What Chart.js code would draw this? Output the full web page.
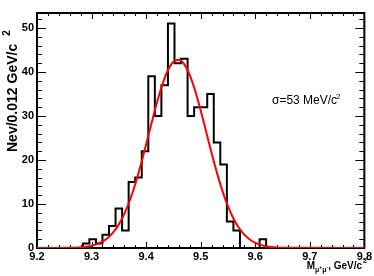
<!DOCTYPE html>
<html>
<head>
<meta charset="utf-8">
<script src="https://cdn.jsdelivr.net/npm/chart.js@4.4.1/dist/chart.umd.min.js"></script>
<style>
  html, body { margin: 0; padding: 0; background: #fff; }
  canvas { display: block; }
</style>
</head>
<body>
<canvas id="chart" width="374" height="276"></canvas>
<script>
// histogram: 50 bins of 0.012 GeV from 9.2 to 9.8
const massMin = 9.2;
const massMax = 9.8;
const binWidth = 0.012;
const counts = [
  0, 0, 0, 0, 0, 0, 0, 1, 2, 1,
  3, 5, 9, 4, 15, 16, 22, 39, 30, 37,
  51, 42, 43, 30, 32, 32, 35, 24, 19, 6,
  4, 0, 0, 0, 2, 0, 0, 0, 0, 0,
  0, 0, 0, 0, 0, 0, 0, 0, 0, 0
];

// gaussian fit curve
const fitMass = [
  9.20, 9.26, 9.27, 9.28, 9.29, 9.30, 9.31, 9.32, 9.33, 9.34,
  9.35, 9.36, 9.37, 9.38, 9.39, 9.40, 9.41, 9.42, 9.43, 9.44,
  9.45, 9.46, 9.47, 9.48, 9.49, 9.50, 9.51, 9.52, 9.53, 9.54,
  9.55, 9.56, 9.57, 9.58, 9.59, 9.60, 9.61, 9.62, 9.63, 9.64,
  9.65, 9.66, 9.80
];
const fitValues = [
  0, 0.04, 0.08, 0.15, 0.28, 0.50, 0.87, 1.44, 2.32, 3.59,
  5.37, 7.75, 10.79, 14.49, 18.79, 23.52, 28.40, 33.10, 37.22, 40.40,
  42.32, 42.77, 41.72, 39.27, 35.67, 31.27, 26.45, 21.59, 17.01, 12.93,
  9.49, 6.72, 4.59, 3.03, 1.93, 1.18, 0.70, 0.40, 0.22, 0.12,
  0.06, 0.03, 0
];

const xTicks = [9.2, 9.3, 9.4, 9.5, 9.6, 9.7, 9.8];
const yTicks = [0, 10, 20, 30, 40, 50];
const yMax = 53.4;

const histPoints = counts.map((c, i) => ({x: massMin + i * binWidth, y: c}));
histPoints.push({x: massMax, y: counts[counts.length - 1]});
const fitPoints = fitMass.map((m, i) => ({x: m, y: fitValues[i]}));

// draw a run of text pieces (different fonts / vertical shifts) starting at x
function drawRuns(ctx, runs, x, y, alignRight) {
  let total = 0;
  runs.forEach(r => { ctx.font = r.font; r.w = ctx.measureText(r.t).width + (r.dx || 0); total += r.w; });
  let cx = alignRight ? x - total : x;
  runs.forEach(r => {
    ctx.font = r.font;
    ctx.fillText(r.t, cx + (r.dx || 0), y + (r.dy || 0));
    cx += r.w;
  });
}

const frameTicks = {
  id: 'frameTicks',
  beforeDatasetsDraw(chart) {
    const {ctx, chartArea: a, scales: {x, y}} = chart;
    ctx.save();
    ctx.strokeStyle = '#000';
    ctx.lineWidth = 1;
    ctx.beginPath();
    for (let i = 0; i <= 30; i++) {
      const px = Math.round(x.getPixelForValue(massMin + i * 0.02)) + 0.5;
      const len = i % 5 === 0 ? 6 : 3;
      ctx.moveTo(px, a.bottom); ctx.lineTo(px, a.bottom - len);
      ctx.moveTo(px, a.top); ctx.lineTo(px, a.top + len);
    }
    for (let v = 0; v <= yMax; v += 2) {
      const py = Math.round(y.getPixelForValue(v)) + 0.5;
      const len = v % 10 === 0 ? 9 : 5;
      ctx.moveTo(a.left, py); ctx.lineTo(a.left + len, py);
      ctx.moveTo(a.right, py); ctx.lineTo(a.right - len, py);
    }
    ctx.stroke();
    ctx.lineWidth = 2;
    ctx.strokeRect(a.left, a.top, a.right - a.left, a.bottom - a.top);
    ctx.restore();
  },
  afterDraw(chart) {
    const {ctx} = chart;
    ctx.save();
    ctx.fillStyle = '#000';
    ctx.textBaseline = 'alphabetic';
    const ff = '"Liberation Sans", Arial, sans-serif';

    // sigma annotation
    drawRuns(ctx, [
      {t: 'σ=53 MeV/c', font: '12px ' + ff},
      {t: '2', font: '8px ' + ff, dy: -5, dx: -1}
    ], 272, 103.5, false);

    // x axis title
    drawRuns(ctx, [
      {t: 'M', font: 'bold 10px ' + ff},
      {t: 'μ', font: 'bold 7px ' + ff, dy: 3},
      {t: '+', font: 'bold 5px ' + ff, dy: 0},
      {t: 'μ', font: 'bold 7px ' + ff, dy: 3},
      {t: '-', font: 'bold 5px ' + ff, dy: 0},
      {t: ', GeV/c', font: 'bold 10px ' + ff},
      {t: '2', font: 'bold 7px ' + ff, dy: -6, dx: 1}
    ], 367, 269, true);

    // y axis title, rotated
    ctx.translate(16.5, 152);
    ctx.rotate(-Math.PI / 2);
    drawRuns(ctx, [
      {t: 'Nev/0.012 GeV/c', font: 'bold 14px ' + ff},
      {t: '2', font: 'bold 10px ' + ff, dy: -7, dx: 8}
    ], 0, 0, false);
    ctx.restore();
  }
};

const tickFont = {family: '"Liberation Sans", Arial, sans-serif', size: 11, weight: 'bold'};

new Chart(document.getElementById('chart'), {
  type: 'line',
  data: {
    datasets: [
      {
        data: fitPoints,
        borderColor: '#ff0000',
        borderWidth: 2,
        pointRadius: 0,
        cubicInterpolationMode: 'monotone',
        fill: false,
        order: 0
      },
      {
        data: histPoints,
        stepped: 'before',
        borderColor: '#000000',
        borderWidth: 2,
        pointRadius: 0,
        fill: false,
        order: 1
      }
    ]
  },
  options: {
    responsive: false,
    animation: false,
    events: [],
    layout: {padding: {top: 13, right: 7, left: 0, bottom: 0}},
    plugins: {legend: {display: false}, tooltip: {enabled: false}},
    scales: {
      x: {
        type: 'linear',
        min: massMin,
        max: massMax,
        afterBuildTicks: axis => { axis.ticks = xTicks.map(v => ({value: v})); },
        afterFit: s => { s.height = 28; },
        grid: {display: false, drawTicks: false},
        border: {display: false},
        ticks: {
          color: '#000',
          font: tickFont,
          padding: 2,
          maxRotation: 0,
          callback: v => v.toFixed(1)
        }
      },
      y: {
        min: 0,
        max: yMax,
        afterBuildTicks: axis => { axis.ticks = yTicks.map(v => ({value: v})); },
        afterFit: s => { s.width = 37; },
        grid: {display: false, drawTicks: false},
        border: {display: false},
        ticks: {
          color: '#000',
          font: tickFont,
          padding: 3,
          callback: v => String(v)
        }
      }
    }
  },
  plugins: [frameTicks]
});
</script>
</body>
</html>
